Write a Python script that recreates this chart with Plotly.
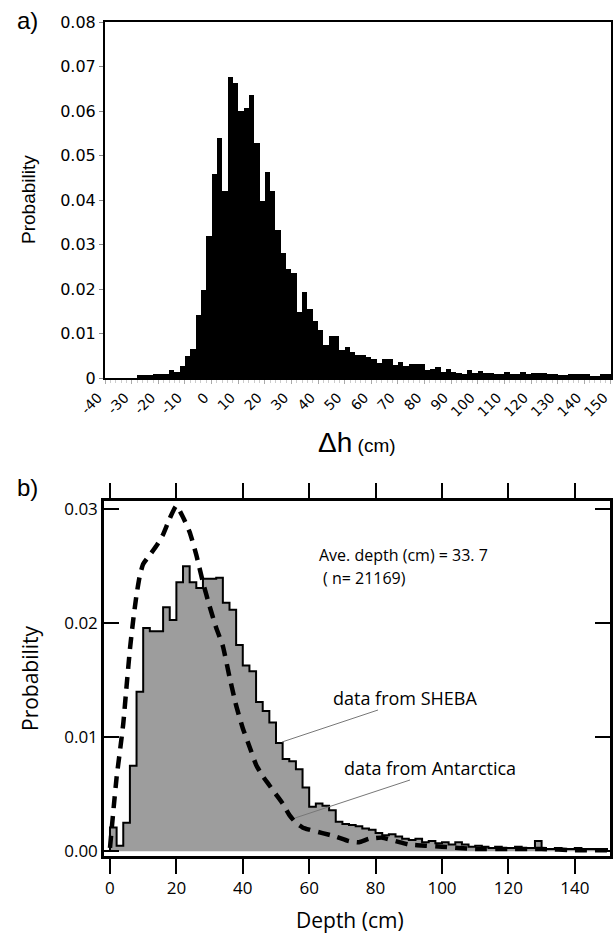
import plotly.graph_objects as go

W, H = 614, 934

# ---------------- Panel a: Δh histogram (2 cm bins, left edges) ----------------
dh_bin_left = list(range(-40, 150, 2))
dh_prob = [0, 0, 0, 0, 0, 0,
           0.0006, 0.0006, 0.0006, 0.0010, 0.0008, 0.0010, 0.0017, 0.0014, 0.0028, 0.0050,
           0.0065, 0.0141, 0.0198, 0.0318, 0.0459, 0.0540, 0.0420, 0.0676, 0.0662, 0.0601,
           0.0607, 0.0635, 0.0529, 0.0398, 0.0462, 0.0420, 0.0332, 0.0282, 0.0246, 0.0237,
           0.0148, 0.0194, 0.0156, 0.0129, 0.0107, 0.0074, 0.0095, 0.0095, 0.0062, 0.0069,
           0.0059, 0.0051, 0.0051, 0.0048, 0.0042, 0.0033, 0.0043, 0.0043, 0.0029, 0.0035,
           0.0028, 0.0031, 0.0031, 0.0032, 0.0018, 0.0020, 0.0024, 0.0014, 0.0020, 0.0013,
           0.0012, 0.0008, 0.0018, 0.0011, 0.0015, 0.0012, 0.0012, 0.0010, 0.0010, 0.0014,
           0.0008, 0.0008, 0.0013, 0.0009, 0.0012, 0.0012, 0.0011, 0.0008, 0.0008, 0.0006,
           0.0006, 0.0008, 0.0008, 0.0008, 0.0008, 0.0004, 0.0004, 0.0008, 0.0009]
a_xticks = [-40, -30, -20, -10, 0, 10, 20, 30, 40, 50, 60, 70, 80, 90, 100, 110, 120, 130, 140, 150]
a_yticks = [0, 0.01, 0.02, 0.03, 0.04, 0.05, 0.06, 0.07, 0.08]
a_ytext = ["0", "0.01", "0.02", "0.03", "0.04", "0.05", "0.06", "0.07", "0.08"]

# ---------------- Panel b: snow depth ----------------
depth_bin_left = list(range(0, 150, 2))
sheba_prob = [0.0021, 0.0005, 0.0025, 0.0075, 0.0140, 0.0196, 0.0193, 0.0193, 0.0214, 0.0203,
              0.0236, 0.0250, 0.0236, 0.0231, 0.0239, 0.0239, 0.0240, 0.0218, 0.0212, 0.0181,
              0.0163, 0.0158, 0.0131, 0.0123, 0.0113, 0.0095, 0.0081, 0.0079, 0.0072, 0.0056,
              0.0039, 0.0042, 0.0040, 0.0036, 0.0026, 0.0024, 0.0023, 0.0022, 0.0020, 0.0019,
              0.0016, 0.0014, 0.0015, 0.0013, 0.0011, 0.0010, 0.0011, 0.0008, 0.0009, 0.0007,
              0.0008, 0.0006, 0.0008, 0.0006, 0.0004, 0.0005, 0.0004, 0.0003, 0.0004, 0.0003,
              0.0003, 0.0004, 0.0003, 0.0003, 0.0009, 0.0002, 0.0002, 0.0003, 0.0002, 0.0002,
              0.0003, 0.0002, 0.0002, 0.0002, 0.0002]
ant_depth = [0, 1, 2, 3, 4, 5, 6, 7, 8, 9, 10, 12, 14, 16, 18, 20, 22, 24, 26, 28, 30, 32, 34,
             36, 38, 40, 42, 44, 46, 48, 50, 52, 54, 56, 58, 60, 64, 68, 72, 75, 78, 82, 86,
             90, 95, 100, 105, 110, 120, 130, 140, 150]
ant_prob = [0.0003, 0.0035, 0.0065, 0.0088, 0.0112, 0.0145, 0.0177, 0.0203, 0.0225, 0.0242,
            0.0252, 0.0260, 0.0268, 0.0278, 0.0292, 0.0303, 0.0293, 0.0280, 0.0260, 0.0236,
            0.0215, 0.0196, 0.0180, 0.0153, 0.0128, 0.0108, 0.0092, 0.0076, 0.0066, 0.0058,
            0.0050, 0.0042, 0.0032, 0.0025, 0.0021, 0.0019, 0.0016, 0.0013, 0.0009, 0.0008,
            0.0011, 0.0012, 0.0009, 0.0006, 0.0005, 0.0004, 0.0003, 0.0002, 0.0002, 0.0002,
            0.0001, 0.0001]
b_xticks = [0, 20, 40, 60, 80, 100, 120, 140]
b_yticks = [0.00, 0.01, 0.02, 0.03]


def px(x, y):
    return x / W, 1 - y / H


fig = go.Figure()

fig.add_trace(go.Bar(
    x=[b + 1 for b in dh_bin_left], y=dh_prob, width=2,
    marker=dict(color="black", line=dict(width=0)),
    xaxis="x", yaxis="y", showlegend=False))

# SHEBA step histogram (filled)
sx = [depth_bin_left[0]] + depth_bin_left + [150]
sy = [0] + sheba_prob + [sheba_prob[-1]]
fig.add_trace(go.Scatter(
    x=sx, y=sy, mode="lines", line=dict(shape="hv", color="black", width=2),
    fill="tozeroy", fillcolor="#9d9d9d", xaxis="x2", yaxis="y2", showlegend=False))

fig.add_trace(go.Scatter(
    x=ant_depth, y=ant_prob, mode="lines",
    line=dict(color="black", width=4.5, dash="12px,8px", shape="spline", smoothing=0.5),
    xaxis="x2", yaxis="y2", showlegend=False))

fig.update_layout(
    width=W, height=H, margin=dict(l=0, r=0, t=0, b=0, autoexpand=False),
    paper_bgcolor="white", plot_bgcolor="white", bargap=0,
    xaxis=dict(domain=[105 / W, 611 / W], range=[-40.05, 150.05], anchor="y", automargin=False,
               tickvals=a_xticks, ticktext=[str(v) for v in a_xticks], tickangle=-45,
               ticklabeloverflow="allow", ticklabelshift=-7,
               ticks="outside", ticklen=4, tickcolor="#aaaaaa", tickwidth=1,
               minor=dict(dtick=2, ticks="outside", ticklen=3, tickcolor="#cccccc"),
               showline=True, linecolor="black", linewidth=2, mirror=True,
               showgrid=False, zeroline=False,
               tickfont=dict(family="DejaVu Sans", size=14, color="black")),
    yaxis=dict(domain=[1 - 378 / H, 1 - 22 / H], range=[0, 0.08], anchor="x", automargin=False,
               tickvals=a_yticks, ticktext=a_ytext,
               ticks="outside", ticklen=4, tickcolor="#888888",
               showline=True, linecolor="black", linewidth=2, mirror=True,
               showgrid=False, zeroline=False,
               tickfont=dict(family="DejaVu Sans", size=16, color="black")),
    xaxis2=dict(domain=[104 / W, 610 / W], range=[-1.8, 150.6], anchor="y2", automargin=False,
                tickvals=b_xticks, ticks="outside", ticklen=15, tickwidth=2, tickcolor="black",
                showline=True, linecolor="black", linewidth=2.5, mirror="ticks",
                showgrid=False, zeroline=False,
                tickfont=dict(family="Open Sans", size=17, color="black")),
    yaxis2=dict(domain=[1 - 856 / H, 1 - 501 / H], range=[-0.00041, 0.03073], anchor="x2",
                automargin=False,
                tickvals=b_yticks, tickformat=".2f", ticks="inside", ticklen=15, tickwidth=2,
                tickcolor="black",
                showline=True, linecolor="black", linewidth=2.5, mirror="ticks",
                showgrid=False, zeroline=False,
                tickfont=dict(family="Open Sans", size=17, color="black")),
)

ann = []


def add_text(x, y, text, size, family="Open Sans", angle=0, xanchor="center"):
    xp, yp = px(x, y)
    ann.append(dict(x=xp, y=yp, xref="paper", yref="paper", text=text, showarrow=False,
                    xanchor=xanchor, yanchor="middle", textangle=angle, borderpad=0,
                    font=dict(family=family, size=size, color="black")))


add_text(27, 20, "a)", 24, family="Liberation Sans")
add_text(27, 488, "b)", 24, family="Liberation Sans")
add_text(28, 200, "Probability", 19, family="Liberation Sans", angle=-90)
add_text(357, 442, "<span style='font-size:28px'>Δh</span> (cm)", 19, family="Liberation Sans")
add_text(30, 678, "Probability", 21, angle=-90)
add_text(350, 920, "Depth (cm)", 21)
add_text(318, 555, "Ave. depth (cm) = 33. 7", 16, xanchor="left")
add_text(322, 578, "( n= 21169)", 16, xanchor="left")
add_text(332, 698, "data from SHEBA", 18, xanchor="left")
add_text(343, 768, "data from Antarctica", 18, xanchor="left")
fig.update_layout(annotations=ann)

shapes = []
for (x0, y0, x1, y1) in [(282, 742, 378, 710), (295, 818, 410, 780)]:
    a0, b0 = px(x0, y0)
    a1, b1 = px(x1, y1)
    shapes.append(dict(type="line", xref="paper", yref="paper", x0=a0, y0=b0, x1=a1, y1=b1,
                       line=dict(color="#777777", width=1)))
fig.update_layout(shapes=shapes)

fig.write_html("out.html")
